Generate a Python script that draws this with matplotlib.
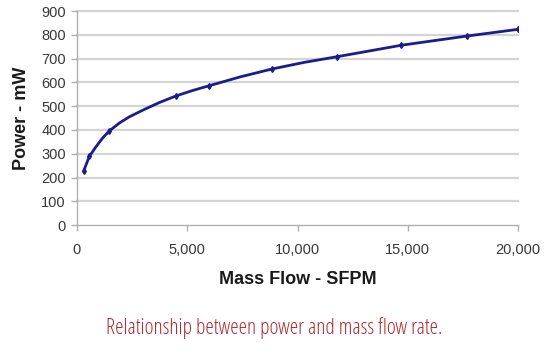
import matplotlib
matplotlib.use("Agg")
import matplotlib.pyplot as plt
from matplotlib.ticker import FuncFormatter

# values
mass_flow = [300, 560, 860, 1170, 1470, 1920, 2370, 2980, 3730, 4490, 5250,
             6000, 7400, 8830, 10300, 11800, 14700, 17700, 20000]
power_mw = [227, 289, 329, 367, 396, 429, 455, 483, 515, 543, 566,
            586, 623, 656, 684, 708, 756, 795, 823]
marker_flow = [300, 560, 1470, 4490, 6000, 8830, 11800, 14700, 17700, 20000]
marker_power = [227, 289, 396, 543, 586, 656, 708, 756, 795, 823]

x_ticks = [0, 5000, 10000, 15000, 20000]
y_ticks = list(range(0, 1000, 100))

plt.rcParams['font.family'] = ['Liberation Sans', 'DejaVu Sans']

fig = plt.figure(figsize=(5.48, 3.55), dpi=100)
ax = fig.add_axes([0.1405, 0.366, 0.805, 0.603])

for y in y_ticks[1:]:
    ax.axhline(y, color='#d4d4d4', lw=1.6, zorder=1, clip_on=False)

ax.plot(mass_flow, power_mw, color='#1c1c8a', lw=2.0, zorder=3,
        solid_joinstyle='round')
ax.plot(marker_flow, marker_power, ls='none', marker='d', ms=3,
        color='#1c1c8a', zorder=4)

ax.set_xlim(0, 20000)
ax.set_ylim(0, 900)
ax.set_xticks(x_ticks)
ax.set_yticks(y_ticks)
ax.xaxis.set_major_formatter(FuncFormatter(lambda v, p: f"{int(v):,}"))

for s in ['top', 'right']:
    ax.spines[s].set_visible(False)
for s in ['left', 'bottom']:
    ax.spines[s].set_color('#b0b0b0')
    ax.spines[s].set_linewidth(1.0)
ax.spines['bottom'].set_zorder(2)

ax.tick_params(axis='both', colors='#b0b0b0', labelcolor='#383838',
               labelsize=10.5, length=4, width=1.0)
ax.tick_params(axis='x', pad=9)
ax.tick_params(axis='y', pad=4)

ax.set_xlabel('Mass Flow - SFPM', fontsize=13, fontweight='bold',
              color='#1a1a1a', labelpad=10)
ax.set_ylabel('Power - mW', fontsize=13, fontweight='bold',
              color='#1a1a1a', labelpad=8)

fig.text(0.5, 0.06, 'Relationship between power and mass flow rate.',
         ha='center', va='baseline', fontsize=15.5, color='#ab2e34',
         family='Open Sans', fontstretch='condensed')

fig.savefig('out.png', dpi=100)
